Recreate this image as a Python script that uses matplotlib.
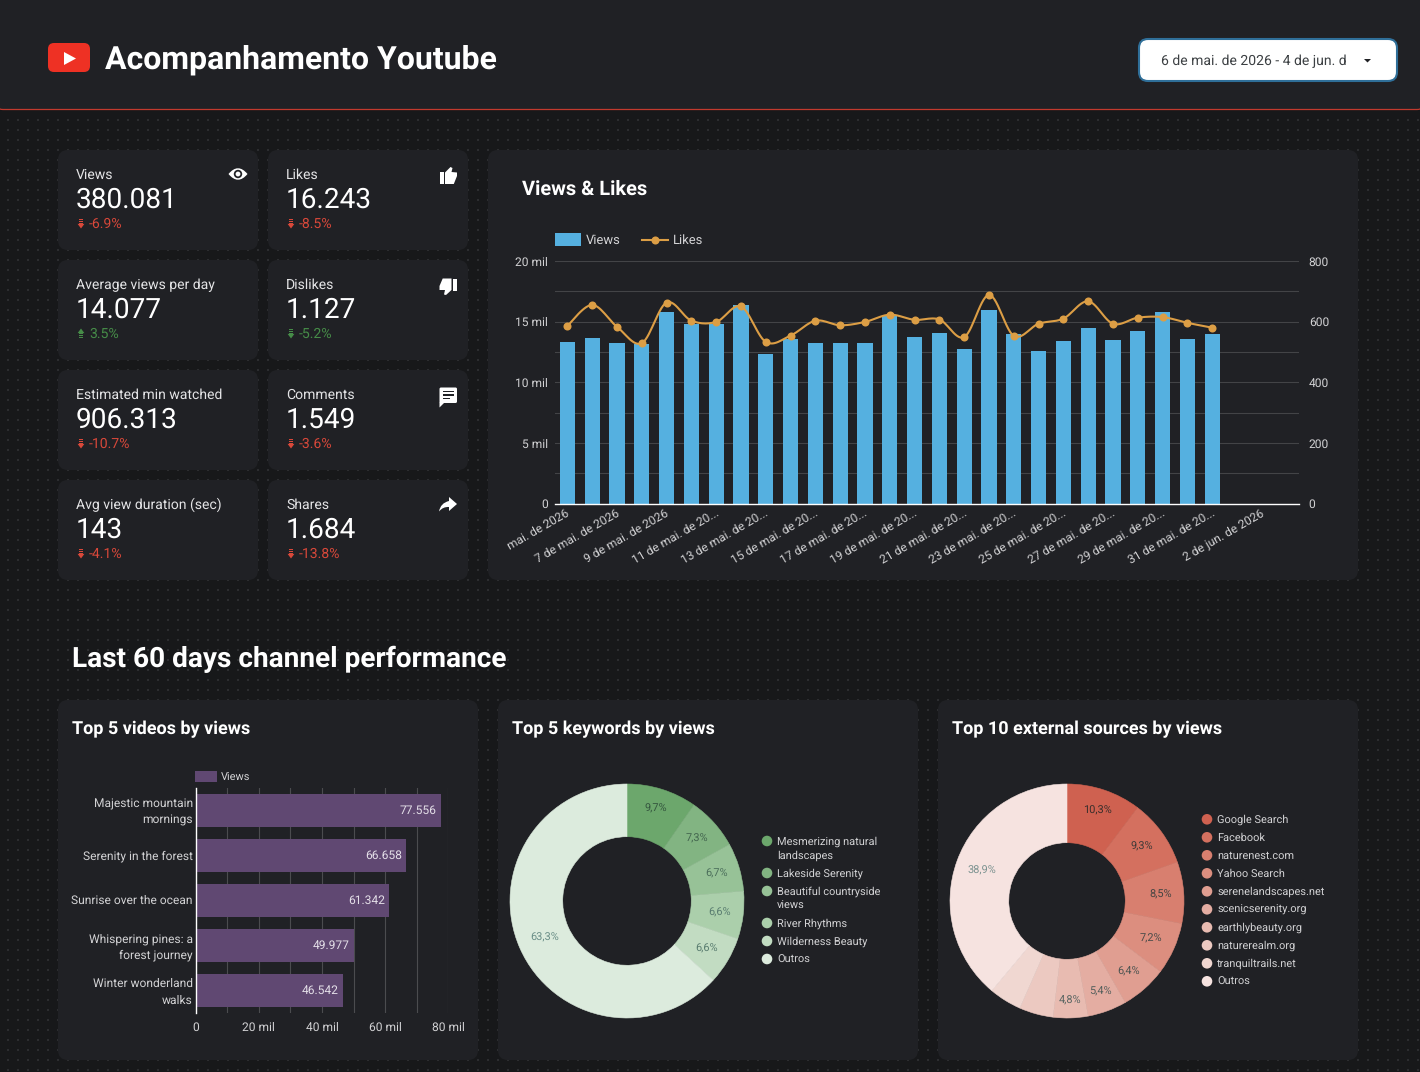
import numpy as np
import matplotlib
matplotlib.use("Agg")
import matplotlib.pyplot as plt
from matplotlib.patches import FancyBboxPatch, Rectangle, Circle, Polygon, PathPatch
from matplotlib.path import Path
from matplotlib.transforms import ScaledTranslation

W, H = 1420, 1072
PT = 0.72  # pixels to points at dpi=100

BG = "#17181a"
CARD = "#202125"
DOT = "#2c2d30"
WHITE = "#ffffff"
SOFT = "#e4e4e6"
AXIS_TXT = "#d2d2d4"
GRID = "#434447"
RED = "#d8483a"
GREEN = "#468c48"
BLUE_BAR = "#55b0e0"
GOLD = "#dc9e45"
PURPLE = "#604872"

# KPI tiles, left column then right column
KPI_NAMES = ["Views", "Average views per day", "Estimated min watched", "Avg view duration (sec)",
             "Likes", "Dislikes", "Comments", "Shares"]
KPI_VALUES = ["380.081", "14.077", "906.313", "143", "16.243", "1.127", "1.549", "1.684"]
KPI_DELTAS = ["-6.9%", "3.5%", "-10.7%", "-4.1%", "-8.5%", "-5.2%", "-3.6%", "-13.8%"]
KPI_GOOD = [False, True, False, False, False, True, False, False]

# daily views and likes
VIEWS = [13330, 13660, 13250, 13170, 15810, 14820, 14820, 16390, 12340, 13580,
         13250, 13250, 13250, 15480, 13750, 14080, 12750, 15980, 13990, 12590,
         13420, 14490, 13500, 14240, 15810, 13580, 13990]
LIKES = [586, 655, 583, 529, 663, 603, 599, 650, 533, 554,
         603, 588, 599, 623, 606, 607, 549, 688, 553, 593,
         610, 667, 593, 613, 615, 596, 580]
N_SLOTS = 30
DATE_TICKS = list(range(0, 29, 2))
DATE_LABELS = ["mai. de 2026", "7 de mai. de 2026", "9 de mai. de 2026", "11 de mai. de 20...",
               "13 de mai. de 20...", "15 de mai. de 20...", "17 de mai. de 20...",
               "19 de mai. de 20...", "21 de mai. de 20...", "23 de mai. de 20...",
               "25 de mai. de 20...", "27 de mai. de 20...", "29 de mai. de 20...",
               "31 de mai. de 20...", "2 de jun. de 2026"]
VIEW_TICKS = [0, 5000, 10000, 15000, 20000]
VIEW_TICK_LABELS = ["0", "5 mil", "10 mil", "15 mil", "20 mil"]
LIKE_TICKS = [0, 200, 400, 600, 800]

VIDEOS = ["Majestic mountain\nmornings", "Serenity in the forest", "Sunrise over the ocean",
          "Whispering pines: a\nforest journey", "Winter wonderland\nwalks"]
VIDEO_VIEWS = [77556, 66658, 61342, 49977, 46542]
VIDEO_VIEW_LABELS = ["77.556", "66.658", "61.342", "49.977", "46.542"]
VIDEO_TICKS = [0, 20000, 40000, 60000, 80000]
VIDEO_TICK_LABELS = ["0", "20 mil", "40 mil", "60 mil", "80 mil"]

KEYWORD_SHARE = [9.7, 7.3, 6.7, 6.6, 6.6, 63.3]
KEYWORD_LABELS = ["9,7%", "7,3%", "6,7%", "6,6%", "6,6%", "63,3%"]
KEYWORD_COLORS = ["#6ca76c", "#82b482", "#97c297", "#abcfab", "#c2dcc2", "#dcebdd"]
KEYWORD_TXT = ["#35573f", "#44664f", "#4d705c", "#5a7d70", "#5a7d70", "#6b8f88"]
KEYWORD_DIST = [0.83, 0.80, 0.80, 0.80, 0.79, 0.77]
KEYWORD_LEGEND = [("Mesmerizing natural", 841, 0), ("landscapes", 855, None),
                  ("Lakeside Serenity", 873, 1), ("Beautiful countryside", 891, 2),
                  ("views", 905, None), ("River Rhythms", 923, 3),
                  ("Wilderness Beauty", 941, 4), ("Outros", 959, 5)]

SOURCE_SHARE = [10.3, 9.3, 8.5, 7.2, 6.4, 5.4, 4.8, 4.7, 4.5, 38.9]
SOURCE_LABELS = ["10,3%", "9,3%", "8,5%", "7,2%", "6,4%", "5,4%", "4,8%", "", "", "38,9%"]
SOURCE_COLORS = ["#cf6150", "#d4705f", "#d87f6f", "#dc8e7f", "#e09e91", "#e4ada2",
                 "#e8bbb1", "#ecc9c1", "#f0d7d1", "#f6e3e0"]
SOURCE_TXT = ["#3a2f2c", "#3f3a38", "#444442", "#4a4c4a", "#4f5552", "#56605d",
              "#5a6663", "#5a6663", "#5a6663", "#7b9290"]
SOURCE_DIST = [0.82, 0.795, 0.80, 0.79, 0.80, 0.82, 0.85, 0.8, 0.8, 0.775]
SOURCE_NAMES = ["Google Search", "Facebook", "naturenest.com", "Yahoo Search", "serenelandscapes.net",
                "scenicserenity.org", "earthlybeauty.org", "naturerealm.org", "tranquiltrails.net", "Outros"]

plt.rcParams["font.family"] = ["Roboto", "DejaVu Sans"]
plt.rcParams["text.hinting"] = "no_hinting"
plt.rcParams["text.hinting_factor"] = 1

fig = plt.figure(figsize=(W / 100, H / 100), dpi=100, facecolor=BG)
cv = fig.add_axes([0, 0, 1, 1])
cv.set_xlim(0, W); cv.set_ylim(H, 0); cv.axis("off")


def ax_px(x0, y0, x1, y1):
    a = fig.add_axes([x0 / W, 1 - y1 / H, (x1 - x0) / W, (y1 - y0) / H])
    a.patch.set_alpha(0)
    return a


def txt(x, y, s, px, color=SOFT, ha="left", weight="normal", **kw):
    return cv.text(x, y, s, fontsize=px * PT, color=color, ha=ha, va="center_baseline",
                   fontweight=weight, **kw)


def card(x0, y0, x1, y1, r=10, fc=CARD, **kw):
    p = FancyBboxPatch((x0 + r, y0 + r), x1 - x0 - 2 * r, y1 - y0 - 2 * r,
                       boxstyle=f"round,pad={r},rounding_size={r}", fc=fc, ec="none", **kw)
    cv.add_patch(p)
    return p


def smooth(xs, ys, steps=14):
    # Catmull-Rom through the points, like the chart's "smooth line" option
    xs = np.asarray(xs, float); ys = np.asarray(ys, float)
    px = np.r_[xs[0], xs, xs[-1]]; py = np.r_[ys[0], ys, ys[-1]]
    t = np.linspace(0, 1, steps, endpoint=False)[:, None]
    def seg(p):
        p0, p1, p2, p3 = p[:-3], p[1:-2], p[2:-1], p[3:]
        return 0.5 * (2 * p1 + (p2 - p0) * t + (2 * p0 - 5 * p1 + 4 * p2 - p3) * t ** 2
                      + (3 * p1 - p0 - 3 * p2 + p3) * t ** 3)
    return np.r_[seg(px).T.ravel(), xs[-1]], np.r_[seg(py).T.ravel(), ys[-1]]


# dotted page background
gx, gy = np.meshgrid(np.arange(8, W, 10), np.arange(120, H, 10))
cv.scatter(gx.ravel(), gy.ravel(), s=2.1, marker="s", color=DOT, linewidths=0)

# header band, its side edges sit just off the canvas
hdr = FancyBboxPatch((3, -20), W - 6, 121.5, boxstyle="round,pad=8,rounding_size=8",
                     fc=CARD, ec="#c23a2e", lw=0.9)
cv.add_patch(hdr)
card(48, 43, 90, 72, r=6, fc="#ee3124")
cv.add_patch(Polygon([(64, 52), (64, 65), (76, 58.5)], fc=WHITE, ec="none"))
txt(105, 56.5, "Acompanhamento Youtube", 31.6, WHITE, weight="bold")

# date range control
pick = FancyBboxPatch((1148, 48), 240, 24, boxstyle="round,pad=9,rounding_size=9",
                      fc=WHITE, ec="#2f6f99", lw=1.5)
cv.add_patch(pick)
t = txt(1161, 60, "6 de mai. de 2026 - 4 de jun. de 2026", 14.3, "#3c4043", clip_on=True)
t.set_clip_path(Rectangle((1150, 40), 196, 40, transform=cv.transData))
cv.add_patch(Polygon([(1364, 59), (1371, 59), (1367.5, 62.5)], fc="#202124", ec="none"))

# KPI tiles
for i, (name, val, delta, good) in enumerate(zip(KPI_NAMES, KPI_VALUES, KPI_DELTAS, KPI_GOOD)):
    x0 = 58 if i < 4 else 268
    y0 = 150 + (i % 4) * 110
    card(x0, y0, x0 + 200, y0 + 100)
    txt(x0 + 18, y0 + 23.5, name, 14, SOFT)
    txt(x0 + 18, y0 + 47.5, val, 28.2, WHITE)
    c = GREEN if good else RED
    txt(x0 + 31, y0 + 73, delta, 14, c)
    # small striped delta arrow
    ax0 = x0 + 23
    ym = y0 + 73.5
    sign = -1 if delta.startswith("-") else 1
    for k in (0, 2, 4):
        cv.add_patch(Rectangle((ax0 - 1.8, ym + sign * (4.2 - k) - 0.6), 3.6, 1.3, fc=c, ec="none"))
    cv.add_patch(Polygon([(ax0 - 3.4, ym - sign * 0.4), (ax0 + 3.4, ym - sign * 0.4), (ax0, ym - sign * 5)],
                         fc=c, ec="none"))

# tile icons
cv.add_patch(PathPatch(Path([(228.5, 174), (238, 162.5), (247.5, 174), (238, 185.5), (228.5, 174)],
                            [Path.MOVETO, Path.CURVE3, Path.CURVE3, Path.CURVE3, Path.CURVE3]),
                       fc=WHITE, ec="none"))
cv.add_patch(Circle((238, 174), 4.2, fc=CARD, ec="none"))
cv.add_patch(Circle((238, 174), 2.4, fc=WHITE, ec="none"))

cv.add_patch(Rectangle((439.5, 172), 4, 12, fc=WHITE, ec="none"))
cv.add_patch(Polygon([(445, 184), (445, 172.5), (450.5, 167), (452.5, 168), (451.5, 172), (457, 172.5),
                      (457, 176), (453.8, 184)], fc=WHITE, ec="none"))
cv.add_patch(Rectangle((453, 278.5), 4, 12, fc=WHITE, ec="none"))
cv.add_patch(Polygon([(451.5, 278.5), (451.5, 290), (446, 295), (444, 294.5), (445, 290), (439.5, 290),
                      (439.5, 286), (442.7, 278.5)], fc=WHITE, ec="none"))

card(439.5, 387.5, 457, 403, r=1.5, fc=WHITE)
cv.add_patch(Polygon([(439.5, 402), (439.5, 407.5), (445, 402)], fc=WHITE, ec="none"))
for yy, xe in ((391.5, 454), (395, 454), (398.5, 450)):
    cv.add_patch(Rectangle((443, yy - 0.6), xe - 443, 1.3, fc=CARD, ec="none"))

cv.add_patch(PathPatch(Path([(449, 497), (457, 504), (449, 511), (449, 507), (443, 506.5), (439, 511.5),
                             (440.5, 503), (449, 501), (449, 497)],
                            [Path.MOVETO, Path.LINETO, Path.LINETO, Path.LINETO, Path.CURVE3, Path.CURVE3,
                             Path.CURVE3, Path.CURVE3, Path.LINETO]), fc=WHITE, ec="none"))

# views & likes combo chart
card(488, 150, 1358, 580)
txt(522, 187.5, "Views & Likes", 19.8, WHITE, weight="bold")
cv.add_patch(Rectangle((555, 233), 26, 13, fc=BLUE_BAR, ec="none"))
txt(586, 239.5, "Views", 13, AXIS_TXT)
cv.plot([642, 668], [239.5, 239.5], color=GOLD, lw=1.5)
cv.plot([655], [239.5], "o", color=GOLD, ms=5.8, mew=0)
txt(673, 239.5, "Likes", 13, AXIS_TXT)

ax = ax_px(555, 261, 1299, 503.5)
days = np.arange(len(VIEWS))
ax.bar(days, VIEWS, width=0.62, color=BLUE_BAR, zorder=3)
ax.set_xlim(-0.5, N_SLOTS - 0.5)
ax.set_ylim(0, 20000)
ax.set_yticks(VIEW_TICKS, VIEW_TICK_LABELS)
ax.set_yticks(np.arange(0, 20001, 2500), minor=True)
ax.grid(axis="y", which="both", color=GRID, lw=0.8)
ax.set_axisbelow(True)
ax.set_xticks(DATE_TICKS, DATE_LABELS, rotation=30, ha="right", va="top", rotation_mode="anchor")
ax.tick_params(axis="both", which="both", length=0, labelcolor=AXIS_TXT, labelsize=12 * PT)
ax.tick_params(axis="y", pad=5)
ax.tick_params(axis="x", pad=3)
shift = ScaledTranslation(-1.5 / 100, 0, fig.dpi_scale_trans)
for lab in ax.get_xticklabels():
    lab.set_transform(lab.get_transform() + shift)
for s in ax.spines.values():
    s.set_visible(False)
ax.spines["bottom"].set_visible(True)
ax.spines["bottom"].set_color(WHITE)
ax.spines["bottom"].set_linewidth(1.0)
ax.spines["bottom"].set_zorder(5)

ax2 = ax.twinx()
ax2.set_ylim(0, 800)
ax2.set_yticks(LIKE_TICKS)
ax2.tick_params(axis="y", length=0, labelcolor=AXIS_TXT, labelsize=12 * PT, pad=7)
for s in ax2.spines.values():
    s.set_visible(False)
ax2.patch.set_alpha(0)
sx, sy = smooth(days, LIKES)
ax2.plot(sx, sy, color=GOLD, lw=1.5)
ax2.plot(days, LIKES, "o", color=GOLD, ms=5.8, mew=0)

txt(72, 656.5, "Last 60 days channel performance", 28, WHITE, weight="bold")

# lower row cards
for x0, title in ((58, "Top 5 videos by views"), (498, "Top 5 keywords by views"),
                  (938, "Top 10 external sources by views")):
    card(x0, 700, x0 + 420, 1060)
    txt(x0 + 14, 727, title, 17.6, WHITE, weight="bold")

# top videos
cv.add_patch(Rectangle((195, 771), 22, 11, fc=PURPLE, ec="none"))
txt(221, 776.5, "Views", 11, AXIS_TXT)
bx = ax_px(195.7, 788, 448.3, 1013)
pos = np.arange(len(VIDEOS))
bx.barh(pos, VIDEO_VIEWS, height=0.755, color=PURPLE, zorder=3)
bx.set_xlim(0, 80000)
bx.set_ylim(4.5, -0.5)
bx.set_xticks(VIDEO_TICKS, VIDEO_TICK_LABELS)
bx.set_xticks(np.arange(0, 80001, 10000), minor=True)
bx.grid(axis="x", which="both", color="#4b4c4f", lw=0.8)
bx.set_axisbelow(True)
bx.set_yticks(pos, VIDEOS)
bx.tick_params(axis="both", which="both", length=0, labelcolor=AXIS_TXT, labelsize=12 * PT)
bx.tick_params(axis="x", pad=6.5)
bx.tick_params(axis="y", pad=2)
for lab in bx.get_yticklabels():
    lab.set_multialignment("right")
    lab.set_linespacing(1.55)
    # two-line labels sit a little higher than the bar centre
    up = 2 if "\n" in lab.get_text() else 1
    lab.set_transform(lab.get_transform() + ScaledTranslation(0, up / 100, fig.dpi_scale_trans))
for s in bx.spines.values():
    s.set_visible(False)
bx.spines["left"].set_visible(True)
bx.spines["left"].set_color(WHITE)
bx.spines["left"].set_linewidth(1.0)
bx.spines["left"].set_zorder(5)
for p, v, lab in zip(pos, VIDEO_VIEWS, VIDEO_VIEW_LABELS):
    bx.annotate(lab, (v, p), xytext=(-3, 0), textcoords="offset points", ha="right", va="center",
                color="#e4dfe8", fontsize=11.6 * PT, zorder=6)


def donut(cx, cy, R, r_in, shares, labels, colors, txt_colors, dists):
    a = ax_px(cx - R, cy - R, cx + R, cy + R)
    wedges, _, auto = a.pie(shares, colors=colors, startangle=90, counterclock=False, radius=1,
                            autopct="%.1f",
                            wedgeprops=dict(width=1 - r_in / R, clip_on=False))
    for w, tx, lab, c, d in zip(wedges, auto, labels, txt_colors, dists):
        w.set_edgecolor(w.get_facecolor())
        w.set_linewidth(0.4)
        ang = np.deg2rad((w.theta1 + w.theta2) / 2)
        tx.set_position((d * np.cos(ang), d * np.sin(ang)))
        tx.set_text(lab)
        tx.set_color(c)
        tx.set_fontsize(11 * PT)
    a.set_xlim(-1, 1); a.set_ylim(-1, 1)
    return a


donut(627, 901, 117, 64.3, KEYWORD_SHARE, KEYWORD_LABELS, KEYWORD_COLORS, KEYWORD_TXT, KEYWORD_DIST)
for name, yy, idx in KEYWORD_LEGEND:
    if idx is not None:
        cv.add_patch(Circle((767, yy), 5.3, fc=KEYWORD_COLORS[idx], ec="none"))
    txt(777, yy - 0.2, name, 11.2, AXIS_TXT)

donut(1067, 901, 117, 58.3, SOURCE_SHARE, SOURCE_LABELS, SOURCE_COLORS, SOURCE_TXT, SOURCE_DIST)
for k, name in enumerate(SOURCE_NAMES):
    yy = 819.3 + k * 18
    cv.add_patch(Circle((1207, yy), 5.3, fc=SOURCE_COLORS[k], ec="none"))
    txt(1217, yy - 0.3, name, 11.2, AXIS_TXT)

fig.savefig("out.png", dpi=100, facecolor=BG)
